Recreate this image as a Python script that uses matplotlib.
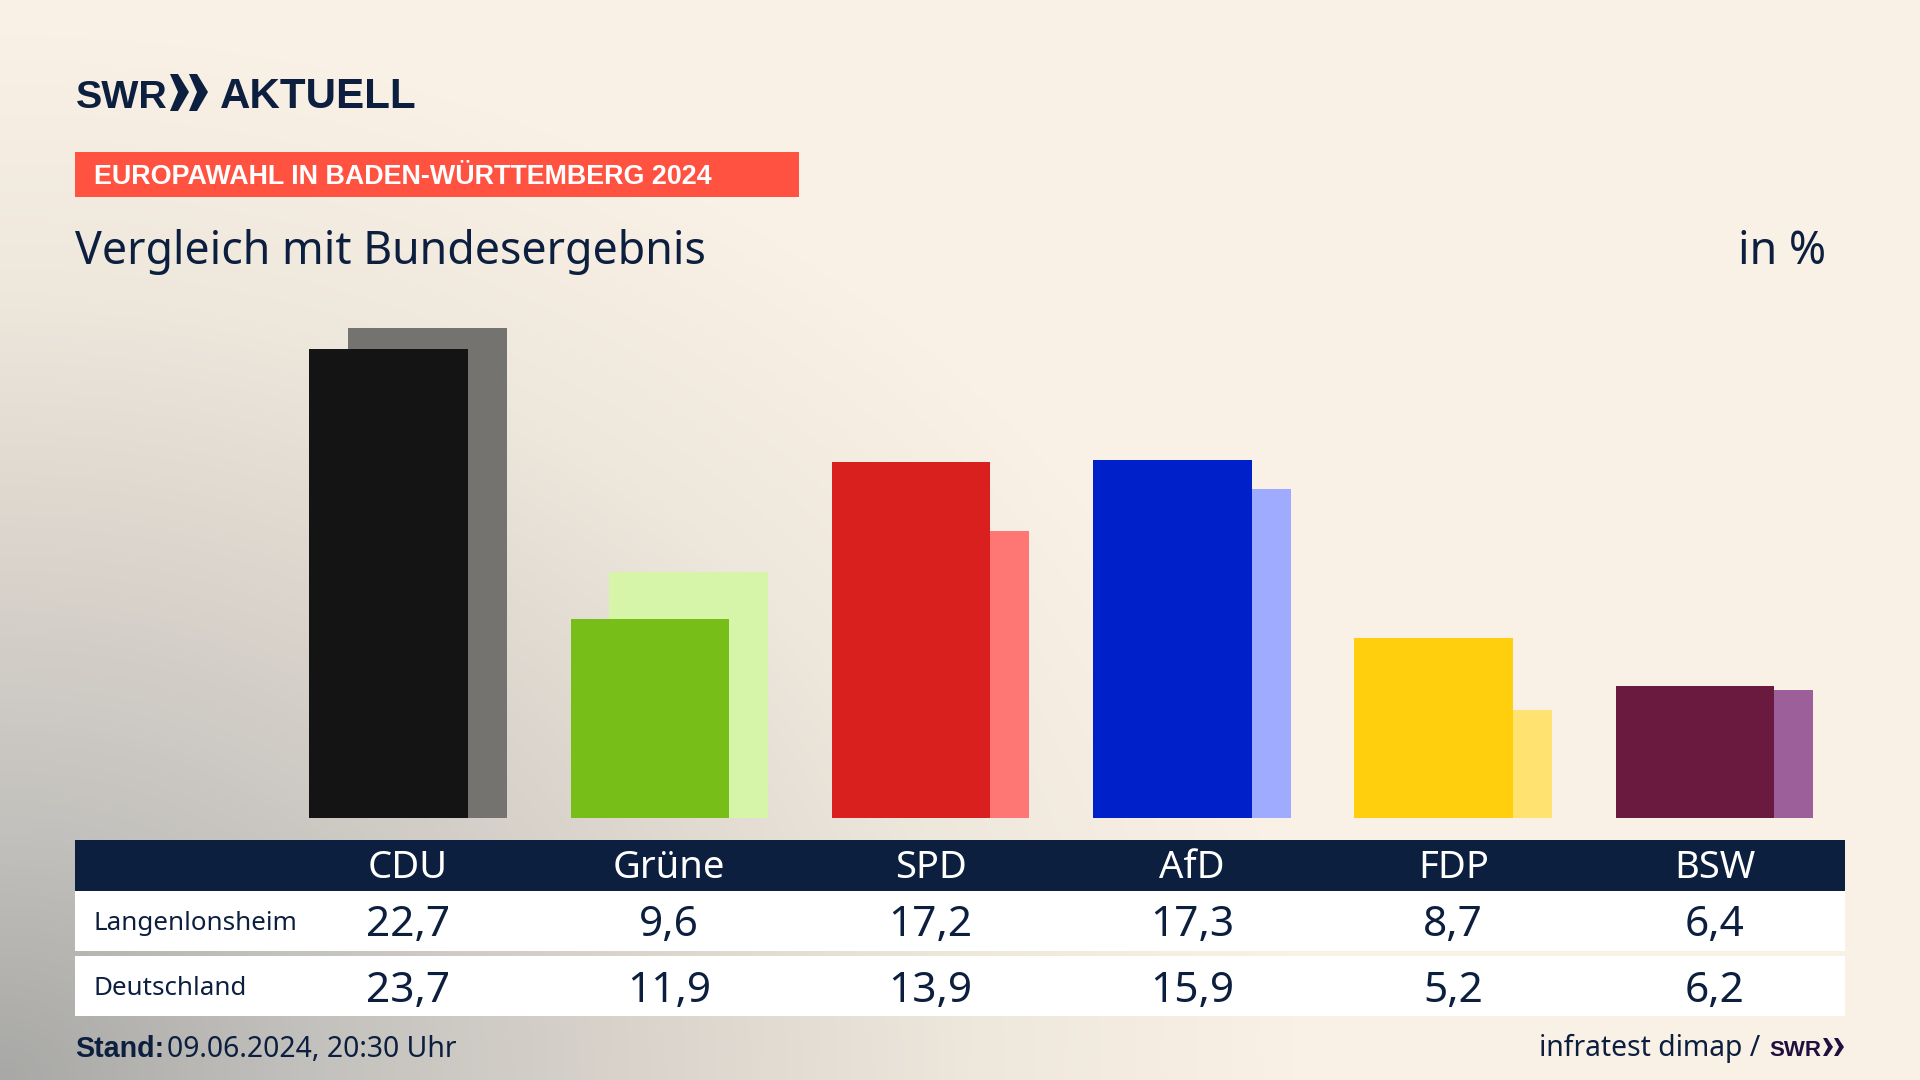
import numpy as np
import matplotlib
matplotlib.use("Agg")
import matplotlib.pyplot as plt
from matplotlib.patches import Rectangle, Polygon
from matplotlib.colors import LinearSegmentedColormap

parties = ["CDU", "Grüne", "SPD", "AfD", "FDP", "BSW"]
langenlonsheim = [22.7, 9.6, 17.2, 17.3, 8.7, 6.4]
deutschland = [23.7, 11.9, 13.9, 15.9, 5.2, 6.2]
row_names = ["Langenlonsheim", "Deutschland"]
colors_local = ["#141414", "#78BE19", "#D9201E", "#0020C9", "#FFCE0C", "#6A1A3E"]
colors_national = ["#74736F", "#D7F5A9", "#FF7774", "#9EABFF", "#FFE26F", "#9C5F9A"]

W, H = 1920, 1080
NAVY = "#0C1F3F"
FONT = "Noto Sans"
BOLD = ["Liberation Sans", "DejaVu Sans"]
plt.rcParams["font.family"] = [FONT, "DejaVu Sans"]

fig = plt.figure(figsize=(19.2, 10.8), dpi=100)

bg = fig.add_axes([0, 0, 1, 1], zorder=0)
bg.set_xlim(0, W); bg.set_ylim(H, 0); bg.axis("off")
yy, xx = np.mgrid[0:H:270j, 0:W:480j]
d = np.sqrt((xx / 1300.0) ** 2 + ((H - yy) / 1050.0) ** 2)
cmap = LinearSegmentedColormap.from_list(
    "page", [(0, "#A8A8A6"), (0.25, "#C4C2BE"), (0.5, "#DAD4CC"), (0.75, "#EEE7DC"), (1, "#FAF1E6")])
bg.imshow(np.clip(d, 0, 1), cmap=cmap, vmin=0, vmax=1, extent=[0, W, H, 0], aspect="auto", interpolation="bilinear")
bg.set_xlim(0, W); bg.set_ylim(H, 0)

def box(x0, y0, x1, y1, color):
    bg.add_patch(Rectangle((x0, y0), x1 - x0, y1 - y0, fc=color, ec="none"))

def label(x, y, s, size, color=NAVY, ha="left", weight="normal", family=None):
    kw = {"family": family} if family else {}
    return bg.text(x, y, s, fontsize=size, color=color, ha=ha, va="baseline", fontweight=weight, **kw)

# logo
label(76, 108, "SWR", 28.4, weight="bold", family=BOLD)
for x0 in (170, 189):
    bg.add_patch(Polygon([(x0, 74), (x0 + 8, 74), (x0 + 19, 92), (x0 + 8, 111), (x0, 111), (x0 + 8, 92)], fc=NAVY, ec="none"))
label(220, 108, "AKTUELL", 30.3, weight="bold", family=BOLD)

# band and headings
box(75, 152, 799, 197, "#FF5240")
label(94, 184, "EUROPAWAHL IN BADEN-WÜRTTEMBERG 2024", 19.4, color="white", weight="bold", family=BOLD)
label(75, 264, "Vergleich mit Bundesergebnis", 32.2)
label(1826, 264, "in %", 32.2, ha="right")

# bars
PX = 20.68
PITCH = 261.3
left = 408 - PITCH / 2
bottom = 818
ax = fig.add_axes([left / W, (H - bottom) / H, 6 * PITCH / W, 25 * PX / H], zorder=1)
ax.set_xlim(-0.5, 5.5); ax.set_ylim(0, 25); ax.axis("off")
ax.patch.set_alpha(0)
x = np.arange(len(parties))
ax.bar(x + 0.0745, deutschland, width=0.607, color=colors_national, linewidth=0)
ax.bar(x - 0.0745, langenlonsheim, width=0.607, color=colors_local, linewidth=0)

# table
box(75, 840, 1845, 891, NAVY)
box(75, 891, 1845, 951, "white")
box(75, 956, 1845, 1016, "white")
for xc, p, a, b in zip(408 + PITCH * x, parties, langenlonsheim, deutschland):
    label(xc, 878, p, 27.5, color="white", ha="center")
    label(xc, 936, f"{a:.1f}".replace(".", ","), 30.5, ha="center")
    label(xc, 1002, f"{b:.1f}".replace(".", ","), 30.5, ha="center")
label(94, 930, row_names[0], 18.7)
label(94, 995, row_names[1], 18.7)

# footer
label(75, 1057, "Stand:", 20.6, weight="bold", family=BOLD)
label(167, 1057, "09.06.2024, 20:30 Uhr", 20.4)
label(1760, 1056, "infratest dimap /", 20.4, ha="right")
label(1769, 1056, "SWR", 16, color="#21103F", weight="bold", family=BOLD)
for x0 in (1823, 1834):
    bg.add_patch(Polygon([(x0, 1038), (x0 + 4, 1038), (x0 + 10, 1047), (x0 + 4, 1056), (x0, 1056), (x0 + 5, 1047)], fc="#21103F", ec="none"))

fig.savefig("out.png", dpi=100)
